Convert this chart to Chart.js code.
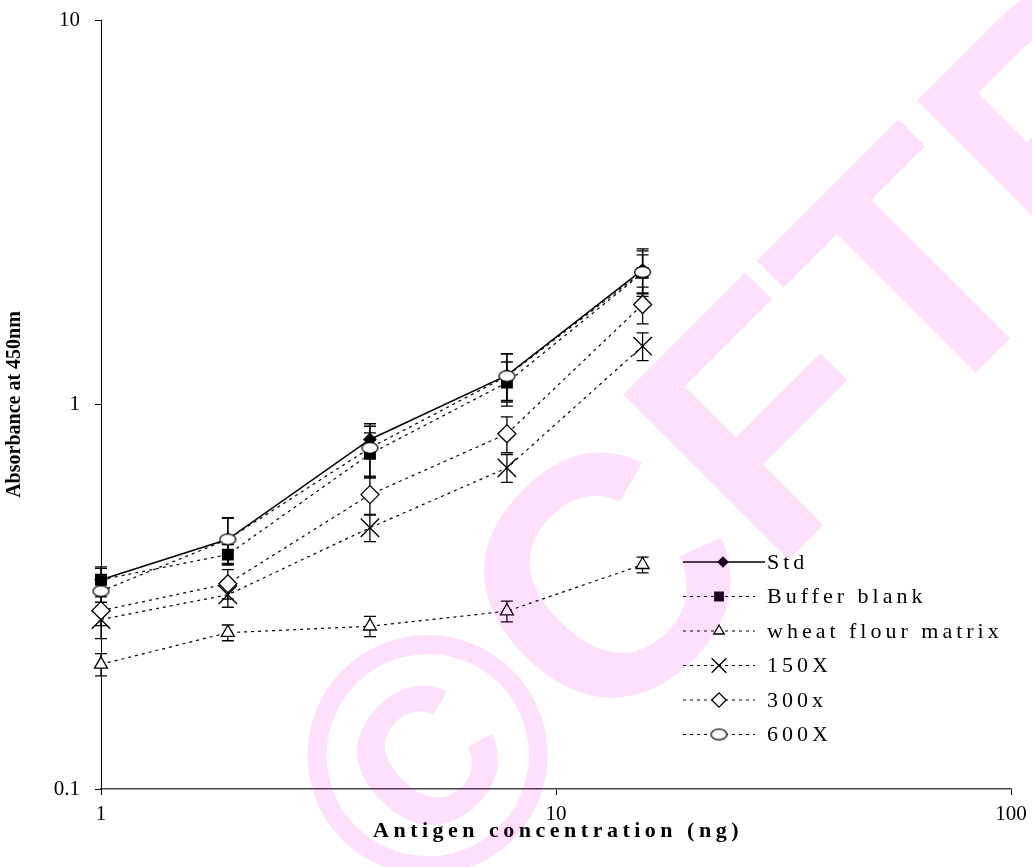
<!DOCTYPE html>
<html><head><meta charset="utf-8">
<script src="https://cdn.jsdelivr.net/npm/chart.js@4/dist/chart.umd.min.js"></script>
<style>html,body{margin:0;padding:0;background:#fff}canvas{display:block}</style>
</head><body>
<canvas id="c" width="1032" height="867"></canvas>
<script>
// ---- data ----
const concentrations = [1, 1.9, 3.9, 7.8, 15.5];
const seriesNames = ['Std', 'Buffer blank', 'wheat flour matrix', '150X', '300x', '600X'];
const stdValues    = [0.35, 0.446, 0.811, 1.19, 2.24];
const bufferValues = [0.35, 0.407, 0.744, 1.14, 2.2];
const wheatValues  = [0.211, 0.255, 0.265, 0.29, 0.383];
const x150Values   = [0.276, 0.32, 0.478, 0.684, 1.418];
const x300Values   = [0.291, 0.342, 0.583, 0.839, 1.82];
const x600Values   = [0.327, 0.446, 0.771, 1.185, 2.21];
const stdErr    = [0.028, 0.062, 0.067, 0.165, 0.3];
const bufferErr = [0.025, 0.025, 0.1, 0.15, 0.25];
const wheatErr  = [0.014, 0.012, 0.016, 0.018, 0.018];
const x150Err   = [0.03, 0.023, 0.038, 0.057, 0.118];
const x300Err   = [0.025, 0.03, 0.065, 0.09, 0.2];
const x600Err   = [0.03, 0.06, 0.12, 0.17, 0.3];
const xTickValues = [1, 10, 100];
const yTickValues = [0.1, 1, 10];
const xAxisTitle = 'Antigen concentration (ng)';
const yAxisTitle = 'Absorbance at 450nm';
const watermarkText = '\u00A9CFTRI';

const seriesValues = [stdValues, bufferValues, wheatValues, x150Values, x300Values, x600Values];
const errorSets = [stdErr, bufferErr, wheatErr, x150Err, x300Err, x600Err];
const SERIF = "'Liberation Serif','Times New Roman',serif";

function ellipseMarker() {
  const c = document.createElement('canvas');
  c.width = 19; c.height = 14;
  const g = c.getContext('2d');
  g.beginPath();
  g.ellipse(9.5, 7, 8, 5.3, 0, 0, Math.PI * 2);
  g.fillStyle = '#fff'; g.fill();
  g.lineWidth = 1.3; g.strokeStyle = '#000'; g.stroke();
  return c;
}

const styles = [
  { pointStyle: 'rectRot', pointRadius: 6, pointBackgroundColor: '#000', borderDash: [], borderWidth: 1.5 },
  { pointStyle: 'rect', pointRadius: 7.5, pointBackgroundColor: '#000' },
  { pointStyle: 'triangle', pointRadius: 7.5 },
  { pointStyle: 'crossRot', pointRadius: 13, pointBorderWidth: 1.4 },
  { pointStyle: 'rectRot', pointRadius: 9 },
  { pointStyle: ellipseMarker(), pointRadius: 8 }
];

const datasets = seriesNames.map((name, si) => Object.assign({
  label: name,
  data: concentrations.map((x, i) => ({ x: x, y: seriesValues[si][i] })),
  borderColor: '#000',
  borderWidth: 1.2,
  borderDash: [3, 4],
  pointBorderColor: '#000',
  pointBackgroundColor: '#fff',
  pointBorderWidth: 1.3,
  pointHoverRadius: 8,
  tension: 0,
  fill: false,
  clip: false,
  order: seriesNames.length - si
}, styles[si]));

const errorBarPlugin = {
  id: 'errorBars',
  beforeDatasetsDraw(chart) {
    const ctx = chart.ctx, xs = chart.scales.x, ys = chart.scales.y;
    ctx.save();
    ctx.strokeStyle = '#000'; ctx.lineWidth = 1.3; ctx.setLineDash([]);
    chart.data.datasets.forEach((d, di) => {
      const errs = errorSets[di];
      d.data.forEach((p, i) => {
        const px = xs.getPixelForValue(p.x);
        const top = ys.getPixelForValue(p.y + errs[i]);
        const bot = ys.getPixelForValue(p.y - errs[i]);
        ctx.beginPath();
        ctx.moveTo(px, top); ctx.lineTo(px, bot);
        ctx.moveTo(px - 6, top); ctx.lineTo(px + 6, top);
        ctx.moveTo(px - 6, bot); ctx.lineTo(px + 6, bot);
        ctx.stroke();
      });
    });
    ctx.restore();
  }
};

function drawMarker(ctx, d, x, y) {
  const st = d.pointStyle;
  if (typeof st === 'object') { ctx.drawImage(st, x - st.width / 2, y - st.height / 2); return; }
  ctx.save();
  ctx.fillStyle = d.pointBackgroundColor; ctx.strokeStyle = '#000';
  ctx.lineWidth = d.pointBorderWidth; ctx.setLineDash([]);
  if (Chart.helpers && Chart.helpers.drawPoint) {
    Chart.helpers.drawPoint(ctx, { pointStyle: st, radius: d.pointRadius * 0.8, borderWidth: d.pointBorderWidth, rotation: 0 }, x, y);
  }
  ctx.restore();
}

const decorPlugin = {
  id: 'decor',
  beforeDraw(chart) {
    const ctx = chart.ctx;
    ctx.save(); ctx.fillStyle = '#fff'; ctx.fillRect(0, 0, chart.width, chart.height); ctx.restore();
  },
  afterDraw(chart) {
    const ctx = chart.ctx, area = chart.chartArea;
    // x axis title
    ctx.save();
    ctx.font = 'bold 22px ' + SERIF;
    ctx.fillStyle = '#000';
    ctx.textAlign = 'center'; ctx.textBaseline = 'middle';
    ctx.letterSpacing = '4.5px';
    ctx.fillText(xAxisTitle, (area.left + area.right) / 2 + 2, 831);
    ctx.restore();
    // legend
    ctx.save();
    chart.data.datasets.forEach((d, i) => {
      const y = 562 + i * 34.5;
      ctx.save();
      ctx.strokeStyle = '#000';
      ctx.lineWidth = d.borderWidth;
      ctx.setLineDash(d.borderDash || []);
      ctx.beginPath();
      ctx.moveTo(683, y); ctx.lineTo(i === 0 ? 765 : 755, y);
      ctx.stroke();
      ctx.restore();
      drawMarker(ctx, d, i === 0 ? 723 : 719, y);
      ctx.font = '22px ' + SERIF;
      ctx.fillStyle = '#000';
      ctx.textAlign = 'left'; ctx.textBaseline = 'middle';
      ctx.letterSpacing = '4px';
      ctx.fillText(d.label, 767, y + 1);
      ctx.letterSpacing = '0px';
    });
    ctx.restore();
    // watermark
    ctx.save();
    ctx.translate(798, 418);
    ctx.rotate(-45 * Math.PI / 180);
    ctx.font = 'bold 340px "Liberation Sans", Arial, sans-serif';
    ctx.fillStyle = 'rgba(245, 0, 235, 0.12)';
    ctx.textAlign = 'center'; ctx.textBaseline = 'middle';
    ctx.fillText(watermarkText, 0, 0);
    ctx.restore();
  }
};

new Chart(document.getElementById('c'), {
  type: 'line',
  data: { datasets: datasets },
  options: {
    responsive: false,
    animation: false,
    devicePixelRatio: 1,
    layout: { padding: { left: 0, top: 20, right: 21, bottom: 0 } },
    plugins: { legend: { display: false }, tooltip: { enabled: false } },
    scales: {
      x: {
        type: 'logarithmic', min: 1, max: 100,
        afterBuildTicks: s => { s.ticks = xTickValues.map(v => ({ value: v })); },
        afterFit: s => { s.height = 78; s.paddingLeft = 0; s.paddingRight = 0; },
        ticks: { color: '#000', font: { family: SERIF, size: 21 }, padding: 7, maxRotation: 0, autoSkip: false,
                 callback: v => String(v) },
        grid: { drawOnChartArea: false, drawTicks: true, tickLength: 6, color: '#000', lineWidth: 1 },
        border: { display: true, color: '#444', width: 1.6 }
      },
      y: {
        type: 'logarithmic', min: 0.1, max: 10,
        afterBuildTicks: s => { s.ticks = yTickValues.map(v => ({ value: v })); },
        afterFit: s => { s.width = 101; s.paddingTop = 0; s.paddingBottom = 0; },
        ticks: { color: '#000', font: { family: SERIF, size: 21 }, padding: 15, autoSkip: false,
                 callback: v => String(v) },
        grid: { drawOnChartArea: false, drawTicks: true, tickLength: 6, color: '#000', lineWidth: 1 },
        border: { display: true, color: '#000', width: 1 },
        title: { display: true, text: yAxisTitle, color: '#000', font: { family: SERIF, size: 20, weight: 'bold' }, padding: { top: 3, bottom: 2 } }
      }
    }
  },
  plugins: [errorBarPlugin, decorPlugin]
});
</script>
</body></html>
